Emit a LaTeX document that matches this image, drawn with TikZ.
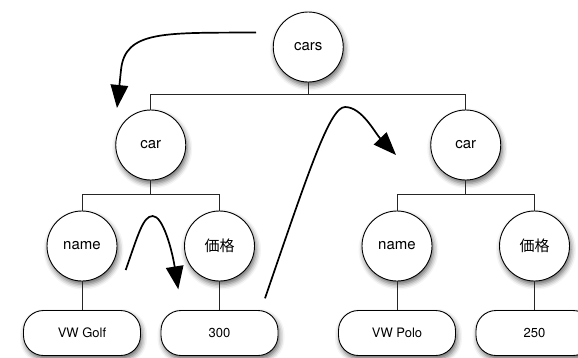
\documentclass[tikz,border=0pt]{standalone}
\usepackage{fontspec}
\setmainfont{TeX Gyre Heros}
\newfontfamily\cjk{Noto Sans CJK JP}
\usetikzlibrary{arrows.meta,shadows.blur}
\begin{document}
\begin{tikzpicture}[x=1pt,y=-1pt,
  softshadow/.style={blur shadow={shadow xshift=1.5pt,shadow yshift=-3.5pt,
      shadow blur radius=5pt,shadow opacity=60}},
  elem/.style={circle,draw=black,line width=0.9pt,fill=white,
      minimum size=70pt,inner sep=0pt,softshadow,
      font=\fontsize{15}{18}\selectfont},
  leaf/.style={rectangle,rounded corners=20pt,draw=black,line width=0.9pt,
      fill=white,minimum width=117pt,minimum height=45pt,inner sep=0pt,
      softshadow,font=\fontsize{13}{16}\selectfont},
  edge/.style={draw=black!85,line width=0.8pt},
  flow/.style={line width=1.7pt,-{Triangle[length=23pt,width=17.5pt]}}]

\useasboundingbox (0,0) rectangle (578,357);

% tree nodes
\node[elem] (cars)   at (308.25,47) {cars};
\node[elem] (car1)   at (150.75,145) {car};
\node[elem] (car2)   at (465.75,145) {car};
\node[elem] (name1)  at (82,246) {name};
\node[elem] (price1) at (219.5,246) {\cjk 価格};
\node[elem] (name2)  at (397,246) {name};
\node[elem] (price2) at (534.5,246) {\cjk 価格};
\node[leaf] (golf)   at (82,333) {VW Golf};
\node[leaf] (v300)   at (219.5,333) {300};
\node[leaf] (polo)   at (397,333) {VW Polo};
\node[leaf] (v250)   at (534.5,333) {250};

% horizontal levels of the tree branches
\coordinate (busA) at (0,94);
\coordinate (busB) at (0,194);

% branches
\draw[edge] (cars.south) -- (cars.south |- busA) -| (car1.north);
\draw[edge] (cars.south) -- (cars.south |- busA) -| (car2.north);
\draw[edge] (car1.south) -- (car1.south |- busB) -| (name1.north);
\draw[edge] (car1.south) -- (car1.south |- busB) -| (price1.north);
\draw[edge] (car2.south) -- (car2.south |- busB) -| (name2.north);
\draw[edge] (car2.south) -- (car2.south |- busB) -| (price2.north);
\draw[edge] (name1.south) -- (golf.north);
\draw[edge] (price1.south) -- (v300.north);
\draw[edge] (name2.south) -- (polo.north);
\draw[edge] (price2.south) -- (v250.north);

% traversal arrows
\coordinate (t1s) at (256,32.5);
\coordinate (t1b) at (121,70);
\coordinate (t1e) at (117,108);
\draw[flow] (t1s) .. controls (165,33) and (125,30) .. (t1b) -- (t1e);

\coordinate (t2s) at (125.7,270);
\coordinate (t2p) at (152.7,216);
\coordinate (t2e) at (178.3,289.3);
\draw[flow] (t2s) .. controls (138,235) and (143,216) .. (t2p)
  .. controls (163,216) and (172,250) .. (t2e);

\coordinate (t3s) at (265,298.3);
\coordinate (t3p) at (345,107);
\coordinate (t3e) at (396,155);
\draw[flow] (t3s) .. controls (309.7,168) and (330,107) .. (t3p)
  .. controls (362,107) and (375,133) .. (t3e);
\end{tikzpicture}
\end{document}
